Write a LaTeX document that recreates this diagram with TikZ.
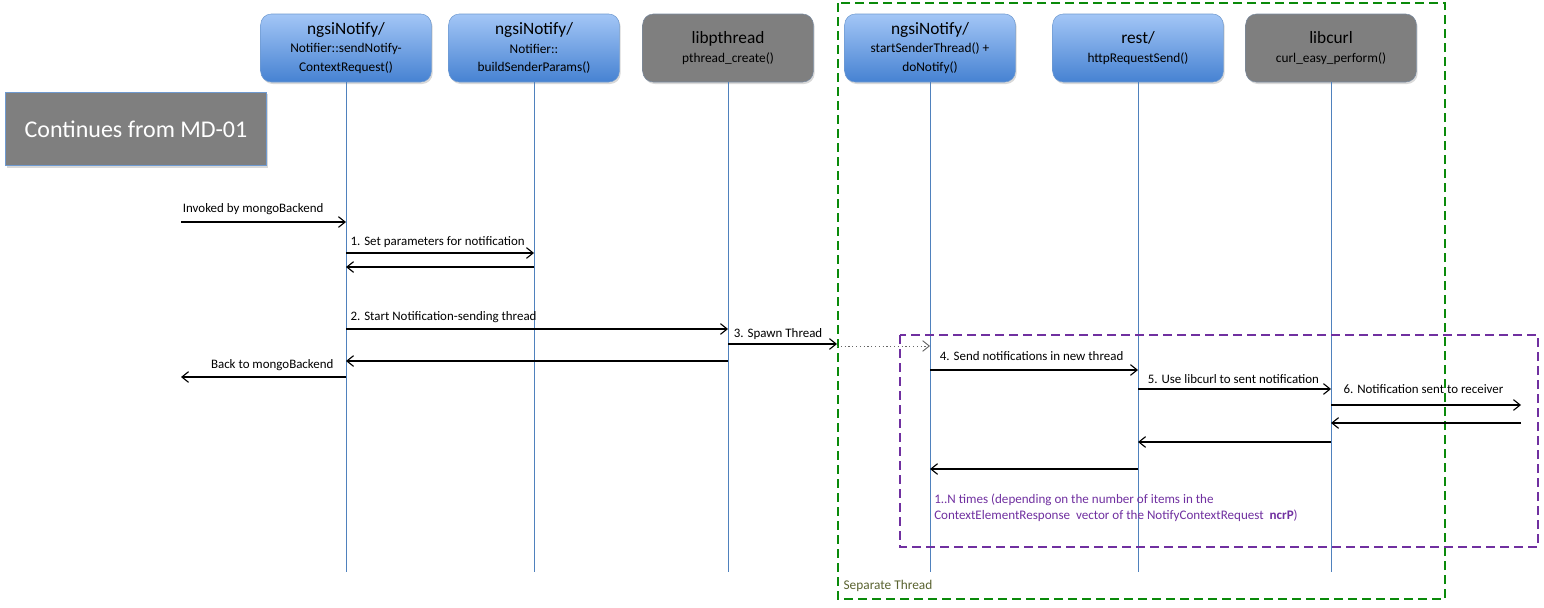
\documentclass[tikz,border=0pt]{standalone}
\usepackage{fontspec}
\setmainfont{Carlito}
\usetikzlibrary{arrows.meta, positioning, shadows}
\definecolor{boxtop}{HTML}{A3C6F6}
\definecolor{boxbot}{HTML}{4682D2}
\definecolor{boxline}{HTML}{6F9AD0}
\definecolor{libgray}{HTML}{7F7F7F}
\definecolor{lifeblue}{HTML}{4F81BD}
\definecolor{framegreen}{HTML}{0A8A0A}
\definecolor{framepurple}{HTML}{7030A0}
\definecolor{olivetext}{HTML}{5A6330}
\newcommand{\ptitle}[1]{{\fontsize{13}{15}\selectfont #1}}
\tikzset{
  part/.style     = {draw=boxline, rounded corners=8pt, top color=boxtop, bottom color=boxbot,
                     align=center, minimum width=128pt, minimum height=51pt, inner sep=2pt,
                     font=\fontsize{10}{14}\selectfont,
                     drop shadow={shadow xshift=1pt, shadow yshift=-1.5pt, opacity=0.3}},
  lib/.style      = {part, top color=libgray, bottom color=libgray, draw=boxline!40!libgray},
  startbox/.style = {draw=boxline, fill=libgray, text=white, minimum width=196pt, minimum height=55pt,
                     font=\fontsize{18}{20}\selectfont,
                     drop shadow={shadow xshift=1pt, shadow yshift=-1.5pt, opacity=0.3}},
  lifeline/.style = {draw=lifeblue, line width=0.7pt},
  msg/.style      = {-{Straight Barb[length=5pt, width=8pt]}, line width=0.85pt},
  spawn/.style    = {msg, dotted, draw=black!60, line width=0.7pt},
  lbl/.style      = {font=\fontsize{9.7}{11}\selectfont, inner sep=1pt},
  note/.style     = {font=\fontsize{9.8}{12}\selectfont, text=framepurple, align=left, inner sep=0pt},
  frame/.style    = {line width=1.9pt, dash pattern=on 6.5pt off 4pt},
}

\begin{document}
\begin{tikzpicture}[x=0.75pt, y=-0.75pt]
\useasboundingbox (0,0) rectangle (1544,607);

% participants
\node[part] (notifier) at (346,48) {\ptitle{ngsiNotify/}\\Notifier::sendNotify-\\ContextRequest()};
\node[part] (params)   at (534,48) {\ptitle{ngsiNotify/}\\Notifier::\\buildSenderParams()};
\node[lib]  (pthread)  at (728,48) {\ptitle{libpthread}\\pthread\_create()};
\node[part] (sender)   at (930,48) {\ptitle{ngsiNotify/}\\startSenderThread() +\\doNotify()};
\node[part] (rest)     at (1138,48) {\ptitle{rest/}\\httpRequestSend()};
\node[lib]  (curl)     at (1331,48) {\ptitle{libcurl}\\curl\_easy\_perform()};

\node[startbox] (md01) at (136,129) {Continues from MD-01};

\foreach \p in {notifier, params, pthread, sender, rest, curl}
  \draw[lifeline] (\p.south) -- (\p |- 0,572);

% thread frames
\draw[frame, framegreen] (838,3) rectangle (1445,599);
\draw[frame, framepurple] (900,335) rectangle (1538,547);
\node[lbl, text=olivetext, font=\fontsize{10}{11}\selectfont, anchor=west] (septhread) at (842,586) {Separate Thread};

\coordinate (caller)   at (181,222);
\coordinate (spawnend) at (837,344);
\coordinate (receiver) at (1521,405);

% main thread
\draw[msg] (caller) -- node[lbl, pos=0, anchor=south west, yshift=4pt] {Invoked by mongoBackend} (notifier |- caller);
\draw[msg] (notifier |- 0,253) -- node[lbl, pos=0, anchor=south west, xshift=2pt, yshift=3pt] {1. Set parameters for notification} (params |- 0,253);
\draw[msg] (params |- 0,267) -- (notifier |- 0,267);
\draw[msg] (notifier |- 0,329) -- node[lbl, pos=0, anchor=south west, xshift=2pt, yshift=3pt] {2. Start Notification-sending thread} (pthread |- 0,329);
\draw[msg] (pthread |- spawnend) -- node[lbl, pos=0, anchor=south west, xshift=3pt, yshift=2pt] {3. Spawn Thread} (spawnend);
\draw[spawn] (spawnend) ++(0,2) -- (sender |- 0,346);
\draw[msg] (pthread |- 0,361) -- (notifier |- 0,361);
\draw[msg] (notifier |- 0,377) -- node[lbl, pos=0, anchor=south east, xshift=-8pt, yshift=3pt] {Back to mongoBackend} (caller |- 0,377);

% sender thread
\draw[msg] (sender |- 0,370) -- node[lbl, pos=0, anchor=south west, xshift=6pt, yshift=6pt] {4. Send notifications in new thread} (rest |- 0,370);
\draw[msg] (rest |- 0,389) -- node[lbl, pos=0, anchor=south west, xshift=6pt, yshift=3pt] {5. Use libcurl to sent notification} (curl |- 0,389);
\draw[msg] (curl |- receiver) -- node[lbl, pos=0, anchor=south west, xshift=8pt, yshift=7pt] {6. Notification sent to receiver} (receiver);
\draw[msg] (receiver |- 0,423) -- (curl |- 0,423);
\draw[msg] (curl |- 0,442) -- (rest |- 0,442);
\draw[msg] (rest |- 0,469) -- (sender |- 0,469);

\node[note, anchor=north west] (loopnote) at (934,494)
  {1..N times (depending on the number of items in the\\ContextElementResponse\ \ vector of the NotifyContextRequest\ \ \textbf{ncrP})};

\end{tikzpicture}
\end{document}
